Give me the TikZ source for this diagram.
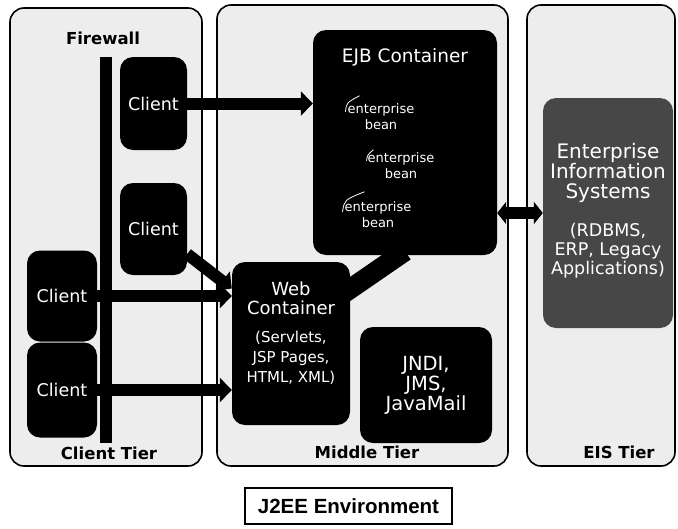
\documentclass[tikz,border=0pt]{standalone}
\usepackage{fontspec}
\setsansfont{DejaVu Sans}
\newfontfamily\labfont{Liberation Sans}
\usetikzlibrary{arrows.meta,calc}
\begin{document}
\begin{tikzpicture}[x=1pt,y=-1pt,
  tier/.style={draw=black, line width=1.6pt, rounded corners=14pt, fill=gray!14},
  blk/.style={fill=black, rounded corners=13pt, text=white, align=center, inner sep=0pt, font=\sffamily},
  txt/.style={text=white, align=center, inner sep=0pt},
  conn/.style={line width=12pt, draw=black},
  tip/.style={-{Triangle[length=12pt,width=24pt]}},
  tierlabel/.style={font=\sffamily\bfseries\fontsize{16.5}{18}\selectfont}]
\useasboundingbox (0,0) rectangle (678,528);

% tiers
\node[tier, minimum width=192pt, minimum height=458pt] (ct) at (106,237) {};
\node[tier, minimum width=291pt, minimum height=461pt] (mt) at (362.5,235.5) {};
\node[tier, minimum width=148pt, minimum height=461pt] (et) at (601,235.5) {};

% firewall
\node[fill=black, minimum width=12pt, minimum height=386pt, inner sep=0pt] (fw) at (106,250) {};
\node[tierlabel] (fwl) at (103,38) {Firewall};

% clients
\node[blk, minimum width=67pt, minimum height=93pt, font=\sffamily\fontsize{17.5}{19}\selectfont] (c1) at (153.5,103.5) {Client};
\node[blk, minimum width=67pt, minimum height=92pt, font=\sffamily\fontsize{17.5}{19}\selectfont] (c2) at (153.5,229) {Client};
\node[blk, minimum width=70pt, minimum height=91pt, font=\sffamily\fontsize{17.5}{19}\selectfont] (c3) at (62,296) {Client};
\node[blk, minimum width=70pt, minimum height=95pt, font=\sffamily\fontsize{17.5}{19}\selectfont] (c4) at (62,390) {Client};

% containers
\node[blk, minimum width=184pt, minimum height=225pt] (ejb) at (405,142.5) {};
\node[txt, font=\sffamily\fontsize{18.5}{20}\selectfont] (ejbt) at (405,57) {EJB Container};
\node[txt, font=\sffamily\fontsize{13}{16}\selectfont] (b1) at (381,117) {enterprise\\bean};
\node[txt, font=\sffamily\fontsize{13}{16}\selectfont] (b2) at (401,166) {enterprise\\bean};
\node[txt, font=\sffamily\fontsize{13}{16}\selectfont] (b3) at (378,215) {enterprise\\bean};
\draw[white, line width=0.8pt] ($(b1.north west)+(-2,8)$) .. controls ($(b1.north west)+(-1,-1)$) .. ($(b1.north west)+(12,-8)$);
\draw[white, line width=0.8pt] ($(b2.north west)+(-1,8)$) .. controls ($(b2.north west)+(0,2)$) .. ($(b2.north west)+(6,-3)$);
\draw[white, line width=0.8pt] ($(b3.north west)+(-2,10)$) .. controls ($(b3.north west)+(0,-2)$) .. ($(b3.north west)+(20,-10)$);

\node[blk, minimum width=118pt, minimum height=163pt] (web) at (291,343.5) {};
\node[txt, font=\sffamily\fontsize{18}{19}\selectfont] (webt) at (291,298) {Web\\Container};
\node[txt, font=\sffamily\fontsize{15}{20}\selectfont] (webd) at (291,358) {(Servlets,\\JSP Pages,\\HTML, XML)};

\node[blk, minimum width=132pt, minimum height=116pt, font=\sffamily\fontsize{19.5}{20}\selectfont] (jndi) at (426,385) {JNDI,\\JMS,\\JavaMail};

\node[blk, fill=black!72, minimum width=130pt, minimum height=230pt] (eis) at (608,213) {};
\node[txt, font=\sffamily\fontsize{20}{20}\selectfont] (eist) at (608,173) {Enterprise\\Information\\Systems};
\node[txt, font=\sffamily\fontsize{17.5}{19}\selectfont] (eisd) at (608,251) {(RDBMS,\\ERP, Legacy\\Applications)};

% connectors
\draw[conn, tip] (c1.east) -- (c1.east -| ejb.west);
\draw[conn, tip] ($(c2.east)+(0,25)$) -- ($(web.west)+(0,-55)$);
\draw[conn, tip] (c3.east) -- (c3.east -| web.west);
\draw[conn, tip] (c4.east) -- (c4.east -| web.west);
\draw[line width=20pt] ($(web.north east)+(-10,34)$) -- ($(ejb.south)+(0,-4)$);
\draw[line width=12pt, {Triangle[length=9pt,width=22pt]}-{Triangle[length=9pt,width=22pt]}] (ejb.east |- eis.west) -- (eis.west);

% tier labels
\node[tierlabel] (ctl) at (109,453) {Client Tier};
\node[tierlabel] (mtl) at (367,452) {Middle Tier};
\node[tierlabel] (etl) at (619,452) {EIS Tier};

\node[draw, line width=1.5pt, minimum width=207pt, minimum height=36pt, font=\labfont\bfseries\fontsize{20.5}{22}\selectfont] (env) at (348.5,506) {J2EE Environment};
\end{tikzpicture}
\end{document}
